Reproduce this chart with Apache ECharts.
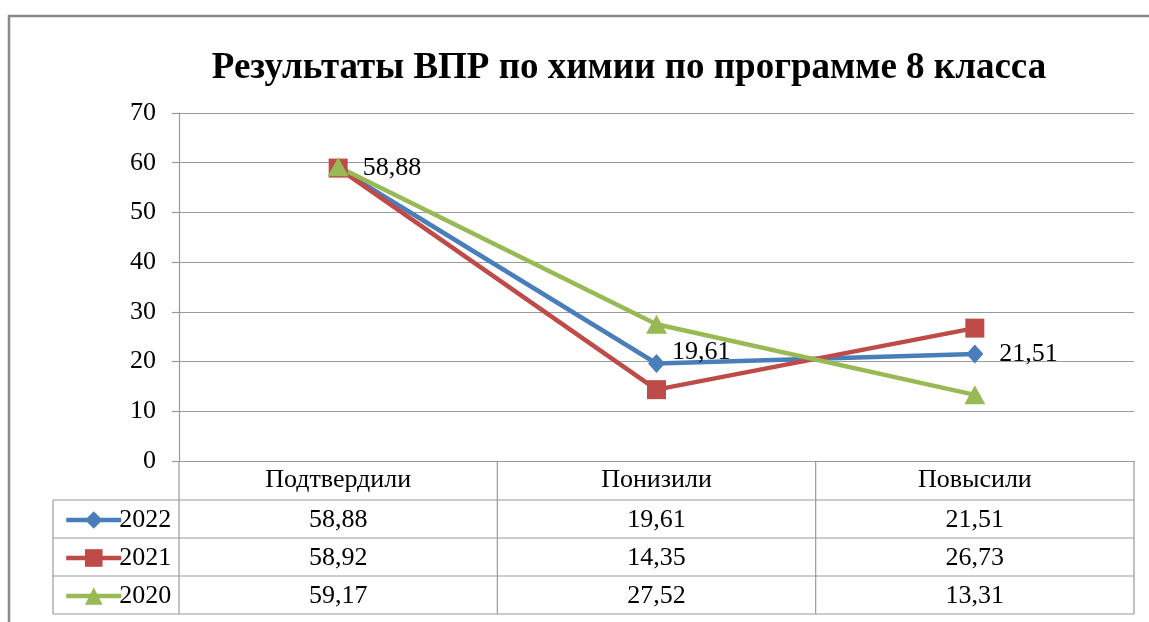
<!DOCTYPE html>
<html>
<head>
<meta charset="utf-8">
<script src="https://cdn.jsdelivr.net/npm/echarts@6/dist/echarts.min.js"></script>
<style>
  html, body { margin: 0; padding: 0; background: #fff; }
  #chart { width: 1149px; height: 622px; }
</style>
</head>
<body>
<div id="chart"></div>
<script>
// Chart data
const titleText = 'Результаты ВПР по химии по программе 8 класса';
const categories = ['Подтвердили', 'Понизили', 'Повысили'];
const seriesNames = ['2022', '2021', '2020'];
const values2022 = [58.88, 19.61, 21.51];
const values2021 = [58.92, 14.35, 26.73];
const values2020 = [59.17, 27.52, 13.31];
const yMin = 0, yMax = 70, yStep = 10;

const FONT = '"Liberation Serif", "Times New Roman", serif';
const TEXT_SIZE = 26;
const colors = ['#4A7EBB', '#BE4B48', '#98B954'];
const symbols = ['diamond', 'rect', 'triangle'];
const symbolSizes = [[17, 19], 19, [21, 19]];
const allValues = [values2022, values2021, values2020];

const fmt = v => v.toFixed(2).replace('.', ',');

const chart = echarts.init(document.getElementById('chart'), null, { renderer: 'canvas' });

const grid = { left: 179, right: 15, top: 113, bottom: 161 };
const rowH = 38, headerH = 39, keyLeft = 53;

const series = seriesNames.map((name, i) => ({
  name,
  type: 'line',
  data: allValues[i],
  symbol: symbols[i],
  symbolSize: symbolSizes[i],
  showAllSymbol: true,
  color: colors[i],
  lineStyle: { width: 4.5, color: colors[i] },
  itemStyle: { color: colors[i] },
  emphasis: { disabled: true },
  label: i === 0 ? {
    show: true,
    position: 'right',
    distance: 16,
    fontFamily: FONT,
    fontSize: TEXT_SIZE,
    color: '#000',
    formatter: p => fmt(p.value)
  } : { show: false },
  // the middle label sits slightly above and closer to its point
  labelLayout: i === 0 ? (p => p.dataIndex === 1 ? { dx: -9, dy: -11 } : {}) : undefined
}));

// one legend per table row, placed in the key column
const legends = seriesNames.map((name, i) => ({
  data: [name],
  left: keyLeft + 6,
  top: 0,
  orient: 'horizontal',
  itemWidth: 55,
  itemHeight: 22,
  itemGap: 0,
  selectedMode: false,
  lineStyle: { width: 4.5 },
  textStyle: { fontFamily: FONT, fontSize: TEXT_SIZE, color: '#000', padding: [0, 0, 0, -7] }
}));

chart.setOption({
  animation: false,
  backgroundColor: '#fff',
  title: {
    text: titleText,
    left: 624,
    top: 45,
    textAlign: 'center',
    textStyle: { fontFamily: FONT, fontSize: 37, fontWeight: 'bold', color: '#000' }
  },
  legend: legends,
  grid,
  xAxis: {
    type: 'category',
    data: categories,
    boundaryGap: true,
    axisLine: { show: true, lineStyle: { color: '#9a9a9a', width: 1.2 } },
    axisTick: { show: false },
    axisLabel: { margin: 6, fontFamily: FONT, fontSize: TEXT_SIZE, color: '#000' }
  },
  yAxis: {
    type: 'value',
    min: yMin,
    max: yMax,
    interval: yStep,
    axisLine: { show: true, lineStyle: { color: '#9a9a9a', width: 1.2 } },
    axisTick: { show: true, length: 7, lineStyle: { color: '#9a9a9a', width: 1.2 } },
    axisLabel: { margin: 23, fontFamily: FONT, fontSize: TEXT_SIZE, color: '#000' },
    splitLine: { show: true, lineStyle: { color: '#9a9a9a', width: 1.2 } }
  },
  series
});

// Data table under the plot, laid out from the axis scales
function drawTable() {
  const y0 = chart.convertToPixel({ yAxisIndex: 0 }, yMin);
  const centers = categories.map(c => chart.convertToPixel({ xAxisIndex: 0 }, c));
  const band = centers.length > 1 ? centers[1] - centers[0] : 318;
  const plotLeft = centers[0] - band / 2;
  const plotRight = centers[centers.length - 1] + band / 2;
  const tableTop = y0 + headerH;
  const tableBottom = tableTop + rowH * seriesNames.length;
  const lineStyle = { stroke: '#9a9a9a', lineWidth: 1.2 };
  const els = [];

  // outer frame of the chart area
  els.push({ type: 'rect', shape: { x: 9, y: 16, width: 1300, height: 700 },
    style: { fill: null, stroke: '#8a8a8a', lineWidth: 2.5 }, silent: true, z: 0 });

  // horizontal rules
  for (let r = 0; r <= seriesNames.length; r++) {
    const y = tableTop + r * rowH;
    els.push({ type: 'line', shape: { x1: keyLeft, y1: y, x2: plotRight, y2: y }, style: lineStyle, silent: true });
  }
  // vertical rules
  els.push({ type: 'line', shape: { x1: keyLeft, y1: tableTop, x2: keyLeft, y2: tableBottom }, style: lineStyle, silent: true });
  for (let c = 0; c <= categories.length; c++) {
    const x = plotLeft + c * band;
    els.push({ type: 'line', shape: { x1: x, y1: y0, x2: x, y2: tableBottom }, style: lineStyle, silent: true });
  }
  // cell values
  allValues.forEach((vals, r) => {
    const cy = tableTop + r * rowH + rowH / 2 + 1;
    vals.forEach((v, c) => {
      els.push({ type: 'text', x: centers[c], y: cy, silent: true,
        style: { text: fmt(v), fontFamily: FONT, fontSize: TEXT_SIZE, fill: '#000', align: 'center', verticalAlign: 'middle' } });
    });
  });

  chart.setOption({
    graphic: els,
    legend: seriesNames.map((n, r) => ({ top: tableTop + r * rowH + rowH / 2 - 17 }))
  });
}
drawTable();
</script>
</body>
</html>
